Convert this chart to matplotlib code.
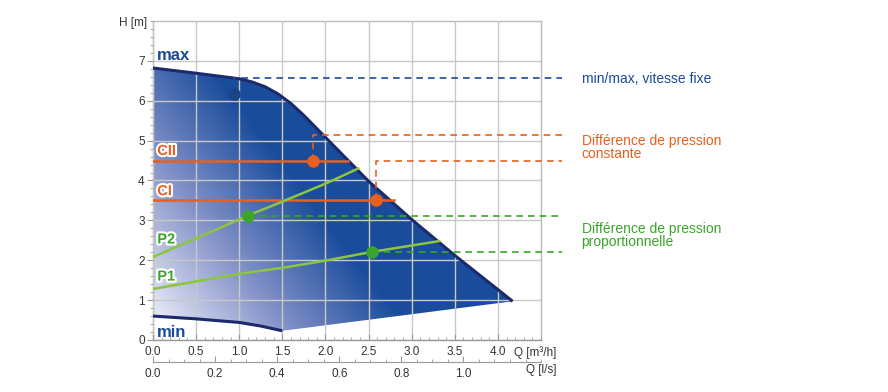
import numpy as np
import matplotlib
matplotlib.use("Agg")
import matplotlib.pyplot as plt
from matplotlib.colors import LinearSegmentedColormap
from matplotlib.patches import Polygon
import matplotlib.patheffects as pe

plt.rcParams['font.family'] = ['Liberation Sans', 'DejaVu Sans']

# pump field: max curve, min curve (Q in m3/h, H in m)
max_q = [0.0, 0.5, 1.0, 1.15, 1.3, 1.45, 1.6, 1.75, 1.9, 2.0, 2.5, 3.0, 3.5, 4.17]
max_h = [6.82, 6.69, 6.55, 6.47, 6.35, 6.17, 5.93, 5.63, 5.30, 5.08, 3.98, 3.02, 2.12, 0.97]
min_q = [0.0, 0.5, 1.0, 1.25, 1.5]
min_h = [0.60, 0.53, 0.44, 0.35, 0.23]

# constant pressure lines
cii_h, cii_end = 4.5, 2.26
ci_h, ci_end = 3.5, 2.80
# proportional pressure curves
p2_q = [0.0, 0.5, 1.1, 1.5, 2.0, 2.38]
p2_h = [2.08, 2.55, 3.12, 3.47, 3.92, 4.30]
p1_q = [0.0, 1.0, 1.5, 2.0, 2.54, 3.32]
p1_h = [1.28, 1.66, 1.81, 1.99, 2.21, 2.48]

# operating points
pt_max = (0.94, 6.18)
pt_cii = (1.86, 4.5)
pt_ci = (2.59, 3.52)
pt_p2 = (1.10, 3.12)
pt_p1 = (2.54, 2.21)

# leader levels
lead_max = 6.57
lead_cii = 5.13
lead_ci = 4.49
lead_end = 4.74

q_ticks = [0.0, 0.5, 1.0, 1.5, 2.0, 2.5, 3.0, 3.5, 4.0]
ls_ticks = [0.0, 0.2, 0.4, 0.6, 0.8, 1.0]
h_ticks = [0, 1, 2, 3, 4, 5, 6, 7]

BLUE = '#1a4a9a'
NAVY = '#1b2a6b'
ORANGE = '#e8601c'
GREEN_L = '#8cc63f'
GREEN = '#3aa52a'

fig = plt.figure(figsize=(8.88, 3.92), dpi=100)
ax = fig.add_axes([0.1723, 0.1327, 0.437, 0.8138])
ax.set_xlim(0, 4.5)
ax.set_ylim(0, 8)

# gradient fill clipped to the field
poly_x = max_q + min_q[::-1]
poly_y = max_h + min_h[::-1]
field = Polygon(np.column_stack([poly_x, poly_y]), closed=True, facecolor='none', edgecolor='none')
ax.add_patch(field)
gx, gy = np.meshgrid(np.linspace(0, 4.5, 300), np.linspace(0, 8, 300))
t = np.clip(gx / 3.1 + (gy - 0.6) / 8.8, 0, 1)
cmap = LinearSegmentedColormap.from_list('fld', [(0, '#e8eaf6'), (0.45, '#8593c9'), (0.92, '#1a4c9c'), (1, '#1a4c9c')])
im = ax.imshow(t, extent=(0, 4.5, 0, 8), origin='lower', cmap=cmap, vmin=0, vmax=1, aspect='auto', zorder=1)
im.set_clip_path(field)

ax.plot(max_q, max_h, color=NAVY, lw=2.2, zorder=3, solid_capstyle='butt')
ax.plot(min_q, min_h, color=NAVY, lw=2.2, zorder=3, solid_capstyle='butt')

# grid
ax.set_xticks(q_ticks)
ax.set_xticks(np.arange(0, 4.51, 0.1), minor=True)
ax.set_yticks(h_ticks)
ax.set_yticks(np.arange(0, 8.01, 0.2), minor=True)
ax.grid(True, which='major', color='#c8c8c8', lw=1.0, zorder=2)
ax.set_axisbelow(False)
for ln in ax.get_xgridlines() + ax.get_ygridlines():
    ln.set_zorder(2)

ax.set_xticklabels([f'{v:.1f}' for v in q_ticks], fontsize=8.5, color='#333333')
ax.set_yticklabels([str(v) for v in h_ticks], fontsize=8.5, color='#333333')
ax.tick_params(axis='x', which='both', direction='in', color='#999999', pad=4)
ax.tick_params(axis='x', which='major', length=4)
ax.tick_params(axis='x', which='minor', length=2)
ax.tick_params(axis='y', which='major', direction='out', length=4, color='#999999', pad=2)
ax.tick_params(axis='y', which='minor', direction='out', length=2, color='#999999')
for s in ['left', 'bottom']:
    ax.spines[s].set_color('#999999')
    ax.spines[s].set_linewidth(1.0)
for s in ['top', 'right']:
    ax.spines[s].set_color('#bbbbbb')
    ax.spines[s].set_linewidth(1.0)

# second Q axis in l/s
sec = ax.secondary_xaxis(-0.069, functions=(lambda q: q / 3.6, lambda l: l * 3.6))
sec.set_xticks(ls_ticks)
sec.set_xticks(np.arange(0, 1.251, 0.05), minor=True)
sec.set_xticklabels([f'{v:.1f}' for v in ls_ticks], fontsize=8.5, color='#333333')
sec.tick_params(axis='x', which='both', direction='in', color='#999999', pad=4)
sec.tick_params(axis='x', which='major', length=4)
sec.tick_params(axis='x', which='minor', length=2)
sec.spines['bottom'].set_color('#999999')

tr = ax.get_xaxis_transform()
ax.text(4.19, -0.038, 'Q [m³/h]', transform=tr, fontsize=8.5, color='#333333', va='center', ha='left', clip_on=False)
ax.text(4.32, -0.094, 'Q [l/s]', transform=tr, fontsize=8.5, color='#333333', va='center', ha='left', clip_on=False)
ax.text(-0.07, 7.95, 'H [m]', fontsize=8.5, color='#333333', va='center', ha='right', clip_on=False)

# constant pressure
ax.plot([0, cii_end], [cii_h, cii_h], color=ORANGE, lw=1.8, zorder=4)
ax.plot([0, ci_end], [ci_h, ci_h], color=ORANGE, lw=1.8, zorder=4)
# proportional pressure
ax.plot(p2_q, p2_h, color=GREEN_L, lw=1.8, zorder=4)
ax.plot(p1_q, p1_h, color=GREEN_L, lw=1.8, zorder=4)

dash = (0, (4, 3))
ax.plot([pt_max[0], pt_max[0], lead_end], [pt_max[1], lead_max, lead_max], color=BLUE, lw=1.2, ls=dash, zorder=4, clip_on=False)
ax.plot([pt_cii[0], pt_cii[0], lead_end], [pt_cii[1], lead_cii, lead_cii], color=ORANGE, lw=1.2, ls=dash, zorder=4, clip_on=False)
ax.plot([pt_ci[0], pt_ci[0], lead_end], [pt_ci[1], lead_ci, lead_ci], color=ORANGE, lw=1.2, ls=dash, zorder=4, clip_on=False)
ax.plot([pt_p2[0], lead_end], [pt_p2[1], pt_p2[1]], color=GREEN, lw=1.2, ls=dash, zorder=4, clip_on=False)
ax.plot([pt_p1[0], lead_end], [pt_p1[1], pt_p1[1]], color=GREEN, lw=1.2, ls=dash, zorder=4, clip_on=False)

ax.plot(*pt_max, 'o', color='#1a4488', ms=8, zorder=5)
ax.plot(*pt_cii, 'o', color=ORANGE, ms=8, zorder=5)
ax.plot(*pt_ci, 'o', color=ORANGE, ms=8, zorder=5)
ax.plot(*pt_p2, 'o', color=GREEN, ms=8, zorder=5)
ax.plot(*pt_p1, 'o', color=GREEN, ms=8, zorder=5)

outline = [pe.withStroke(linewidth=3, foreground='white')]
ax.text(0.05, 7.13, 'max', fontsize=12, fontweight='bold', color=BLUE, va='center', zorder=6)
ax.text(0.05, 0.2, 'min', fontsize=12, fontweight='bold', color=BLUE, va='center', zorder=6)
ax.text(0.05, 4.74, 'CII', fontsize=10.5, fontweight='bold', color=ORANGE, va='center', zorder=6, path_effects=outline)
ax.text(0.05, 3.73, 'CI', fontsize=10.5, fontweight='bold', color=ORANGE, va='center', zorder=6, path_effects=outline)
ax.text(0.05, 2.52, 'P2', fontsize=10.5, fontweight='bold', color=GREEN, va='center', zorder=6, path_effects=outline)
ax.text(0.05, 1.59, 'P1', fontsize=10.5, fontweight='bold', color=GREEN, va='center', zorder=6, path_effects=outline)

# legend texts on the right
ax.text(4.97, 6.55, 'min/max, vitesse fixe', fontsize=10, color=BLUE, va='center', ha='left', clip_on=False)
ax.text(4.97, 4.82, 'Différence de pression\nconstante', fontsize=10, color=ORANGE, va='center', ha='left', linespacing=0.9, clip_on=False)
ax.text(4.97, 2.62, 'Différence de pression\nproportionnelle', fontsize=10, color=GREEN, va='center', ha='left', linespacing=0.9, clip_on=False)

fig.savefig('out.png', dpi=100)
